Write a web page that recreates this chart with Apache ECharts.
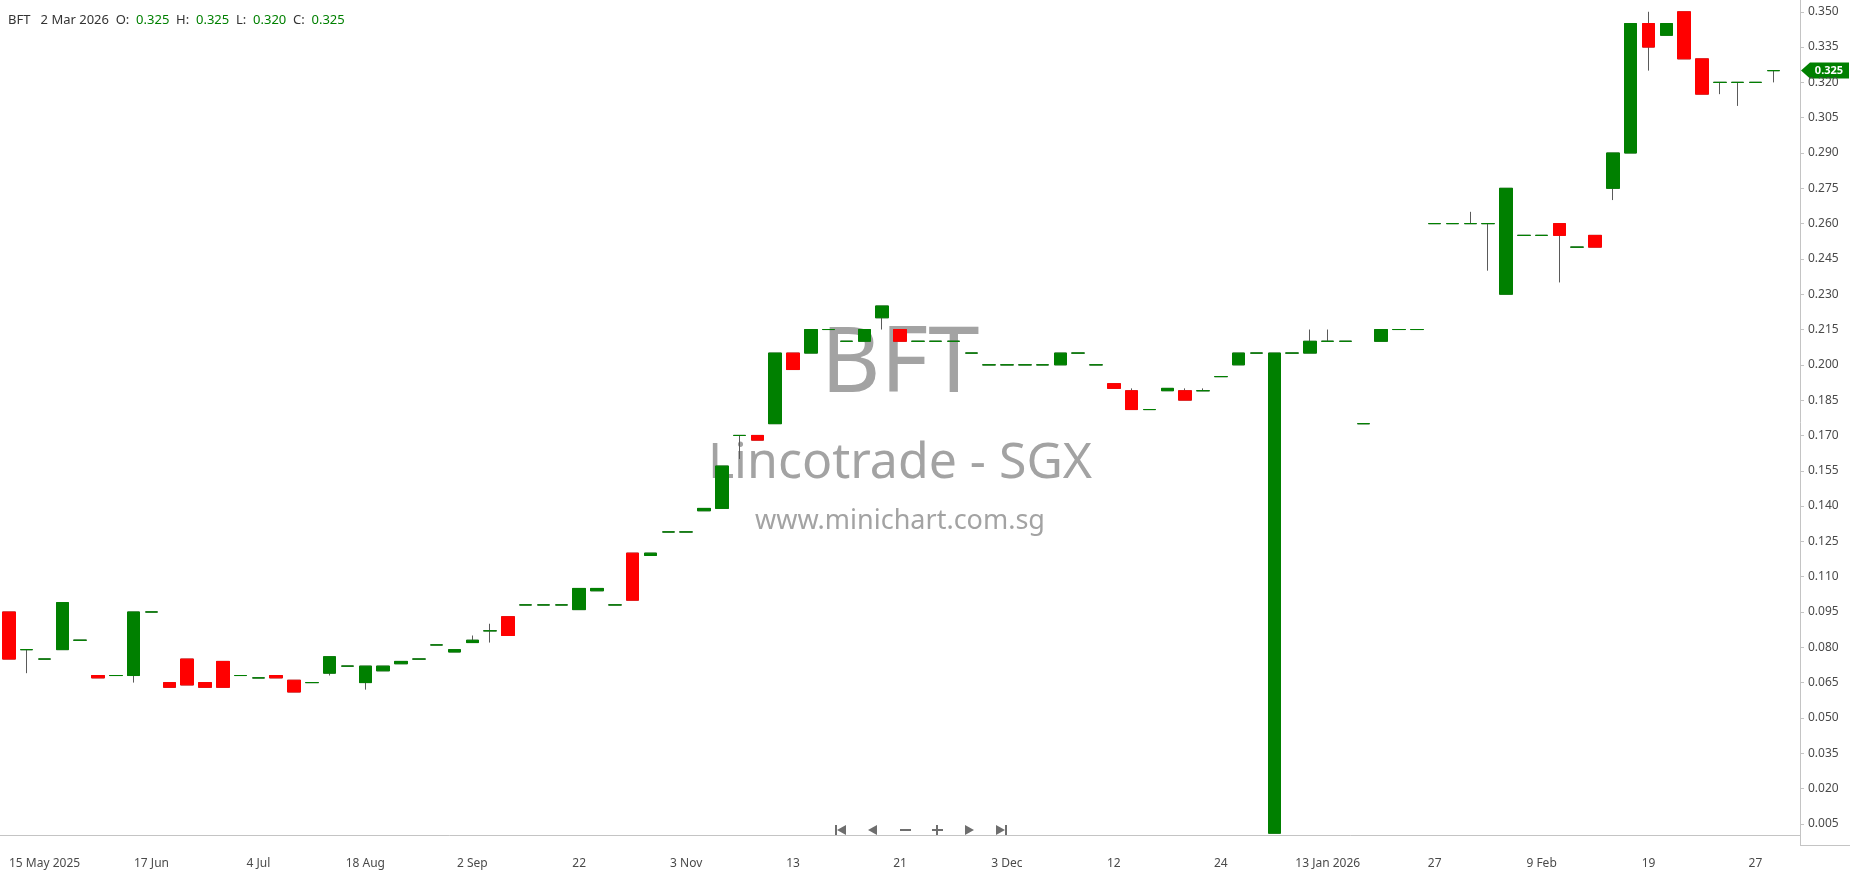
<!DOCTYPE html>
<html>
<head>
<meta charset="utf-8">
<title>BFT</title>
<script src="https://cdn.jsdelivr.net/npm/echarts@6/dist/echarts.min.js"></script>
<style>
  html, body { margin: 0; padding: 0; background: #fff; }
  #chart { width: 1850px; height: 874px; }
</style>
</head>
<body>
<div id="chart"></div>
<script>
var stockName = 'BFT';

// trading days (only days with trades are plotted)
var dates = [
  '2025-05-09', '2025-05-13', '2025-05-15', '2025-05-20', '2025-05-23', '2025-05-28', '2025-06-03', '2025-06-10', '2025-06-17', '2025-06-19',
  '2025-06-23', '2025-06-25', '2025-06-27', '2025-07-01', '2025-07-04', '2025-07-10', '2025-07-17', '2025-07-24', '2025-07-30', '2025-08-05',
  '2025-08-18', '2025-08-20', '2025-08-22', '2025-08-26', '2025-08-28', '2025-08-29', '2025-09-02', '2025-09-04', '2025-09-08', '2025-09-11',
  '2025-09-15', '2025-09-18', '2025-09-22', '2025-09-25', '2025-09-30', '2025-10-07', '2025-10-14', '2025-10-22', '2025-11-03', '2025-11-05',
  '2025-11-06', '2025-11-07', '2025-11-10', '2025-11-11', '2025-11-13', '2025-11-14', '2025-11-17', '2025-11-18', '2025-11-19', '2025-11-20',
  '2025-11-21', '2025-11-24', '2025-11-25', '2025-11-26', '2025-11-27', '2025-12-01', '2025-12-03', '2025-12-04', '2025-12-05', '2025-12-08',
  '2025-12-09', '2025-12-10', '2025-12-12', '2025-12-15', '2025-12-16', '2025-12-17', '2025-12-19', '2025-12-22', '2025-12-24', '2025-12-26',
  '2025-12-29', '2025-12-30', '2026-01-05', '2026-01-08', '2026-01-13', '2026-01-14', '2026-01-16', '2026-01-20', '2026-01-22', '2026-01-23',
  '2026-01-27', '2026-01-28', '2026-01-30', '2026-02-02', '2026-02-04', '2026-02-06', '2026-02-09', '2026-02-10', '2026-02-11', '2026-02-12',
  '2026-02-13', '2026-02-16', '2026-02-19', '2026-02-20', '2026-02-23', '2026-02-24', '2026-02-25', '2026-02-26', '2026-02-27', '2026-03-02'
];

var openP = [
  0.095, 0.079, 0.075, 0.079, 0.083, 0.068, 0.068, 0.068, 0.095, 0.065,
  0.075, 0.065, 0.074, 0.068, 0.067, 0.068, 0.066, 0.065, 0.069, 0.072,
  0.065, 0.070, 0.073, 0.075, 0.081, 0.078, 0.082, 0.087, 0.093, 0.098,
  0.098, 0.098, 0.096, 0.104, 0.098, 0.120, 0.119, 0.129, 0.129, 0.138,
  0.139, 0.170, 0.170, 0.175, 0.205, 0.205, 0.215, 0.210, 0.210, 0.220,
  0.215, 0.210, 0.210, 0.210, 0.205, 0.200, 0.200, 0.200, 0.200, 0.200,
  0.205, 0.200, 0.192, 0.189, 0.181, 0.189, 0.189, 0.189, 0.195, 0.200,
  0.205, 0.001, 0.205, 0.205, 0.210, 0.210, 0.175, 0.210, 0.215, 0.215,
  0.260, 0.260, 0.260, 0.260, 0.230, 0.255, 0.255, 0.260, 0.250, 0.255,
  0.275, 0.290, 0.345, 0.340, 0.350, 0.330, 0.320, 0.320, 0.320, 0.325
];
var highP = [
  0.095, 0.079, 0.075, 0.099, 0.083, 0.068, 0.068, 0.095, 0.095, 0.065,
  0.075, 0.065, 0.074, 0.068, 0.067, 0.068, 0.066, 0.065, 0.076, 0.072,
  0.072, 0.072, 0.074, 0.075, 0.081, 0.079, 0.085, 0.090, 0.093, 0.098,
  0.098, 0.098, 0.105, 0.105, 0.098, 0.120, 0.120, 0.129, 0.129, 0.139,
  0.157, 0.170, 0.170, 0.205, 0.205, 0.215, 0.215, 0.210, 0.215, 0.225,
  0.215, 0.210, 0.210, 0.210, 0.205, 0.200, 0.200, 0.200, 0.200, 0.205,
  0.205, 0.200, 0.192, 0.190, 0.181, 0.190, 0.190, 0.190, 0.195, 0.205,
  0.205, 0.205, 0.205, 0.215, 0.215, 0.210, 0.175, 0.215, 0.215, 0.215,
  0.260, 0.260, 0.265, 0.260, 0.275, 0.255, 0.255, 0.260, 0.250, 0.255,
  0.290, 0.345, 0.350, 0.345, 0.350, 0.330, 0.320, 0.320, 0.320, 0.325
];
var lowP = [
  0.075, 0.069, 0.075, 0.079, 0.083, 0.067, 0.068, 0.065, 0.095, 0.063,
  0.064, 0.063, 0.063, 0.068, 0.067, 0.067, 0.061, 0.065, 0.068, 0.072,
  0.062, 0.070, 0.073, 0.075, 0.081, 0.078, 0.082, 0.082, 0.085, 0.098,
  0.098, 0.098, 0.096, 0.104, 0.098, 0.100, 0.119, 0.129, 0.129, 0.138,
  0.139, 0.160, 0.168, 0.175, 0.198, 0.205, 0.215, 0.210, 0.210, 0.215,
  0.210, 0.210, 0.210, 0.210, 0.205, 0.200, 0.200, 0.200, 0.200, 0.200,
  0.205, 0.200, 0.190, 0.181, 0.181, 0.189, 0.185, 0.189, 0.195, 0.200,
  0.205, 0.001, 0.205, 0.205, 0.210, 0.210, 0.175, 0.210, 0.215, 0.215,
  0.260, 0.260, 0.260, 0.240, 0.230, 0.255, 0.255, 0.235, 0.250, 0.250,
  0.270, 0.290, 0.325, 0.340, 0.330, 0.315, 0.315, 0.310, 0.320, 0.320
];
var closeP = [
  0.075, 0.079, 0.075, 0.099, 0.083, 0.067, 0.068, 0.095, 0.095, 0.063,
  0.064, 0.063, 0.063, 0.068, 0.067, 0.067, 0.061, 0.065, 0.076, 0.072,
  0.072, 0.072, 0.074, 0.075, 0.081, 0.079, 0.083, 0.087, 0.085, 0.098,
  0.098, 0.098, 0.105, 0.105, 0.098, 0.100, 0.120, 0.129, 0.129, 0.139,
  0.157, 0.170, 0.168, 0.205, 0.198, 0.215, 0.215, 0.210, 0.215, 0.225,
  0.210, 0.210, 0.210, 0.210, 0.205, 0.200, 0.200, 0.200, 0.200, 0.205,
  0.205, 0.200, 0.190, 0.181, 0.181, 0.190, 0.185, 0.189, 0.195, 0.205,
  0.205, 0.205, 0.205, 0.210, 0.210, 0.210, 0.175, 0.215, 0.215, 0.215,
  0.260, 0.260, 0.260, 0.260, 0.275, 0.255, 0.255, 0.255, 0.250, 0.250,
  0.290, 0.345, 0.335, 0.345, 0.330, 0.315, 0.320, 0.320, 0.320, 0.325
];

// bottom axis labels, one every 6 candles starting at the 3rd
var xTickLabels = ['15 May 2025', '17 Jun', '4 Jul', '18 Aug', '2 Sep', '22', '3 Nov', '13', '21',
  '3 Dec', '12', '24', '13 Jan 2026', '27', '9 Feb', '19', '27'];
var yTickValues = [0.005, 0.020, 0.035, 0.050, 0.065, 0.080, 0.095, 0.110, 0.125, 0.140, 0.155, 0.170,
  0.185, 0.200, 0.215, 0.230, 0.245, 0.260, 0.275, 0.290, 0.305, 0.320, 0.335, 0.350];

var watermark = ['BFT', 'Lincotrade - SGX', 'www.minichart.com.sg'];

var UP = '#008000', DOWN = '#ff0000', WICK = '#5a5a5a', AXIS = '#c4c4c4', TXT = '#4a4a4a';
var FONT = '"Noto Sans", "Open Sans", sans-serif';
var MONTHS = ['Jan', 'Feb', 'Mar', 'Apr', 'May', 'Jun', 'Jul', 'Aug', 'Sep', 'Oct', 'Nov', 'Dec'];

var categories = dates.concat(['']);   // one empty slot on the right
var n = dates.length;

var wickData = [];
var bodyData = [];
for (var i = 0; i < n; i++) {
  wickData.push([openP[i], closeP[i], lowP[i], highP[i]]);
  bodyData.push([openP[i], closeP[i], Math.min(openP[i], closeP[i]), Math.max(openP[i], closeP[i])]);
}

function isTick(index) {
  return index >= 2 && (index - 2) % 6 === 0;
}

function fmtDate(s) {
  var p = s.split('-');
  return parseInt(p[2], 10) + ' ' + MONTHS[parseInt(p[1], 10) - 1] + ' ' + p[0];
}

var last = n - 1;
var header = '{n|' + stockName + '}   {n|' + fmtDate(dates[last]) + '}  {n|O:}  {g|' + openP[last].toFixed(3) +
  '}  {n|H:}  {g|' + highP[last].toFixed(3) + '}  {n|L:}  {g|' + lowP[last].toFixed(3) +
  '}  {n|C:}  {g|' + closeP[last].toFixed(3) + '}';

// navigation buttons under the chart
function navIcons(cx, cy) {
  var c = '#6e6e6e';
  var s = 32;
  var els = [];
  var x = cx;
  els.push({ type: 'rect', shape: { x: x - 6, y: cy - 5, width: 2, height: 10 }, style: { fill: c } });
  els.push({ type: 'polygon', shape: { points: [[x - 4, cy], [x + 5, cy - 5], [x + 5, cy + 5]] }, style: { fill: c } });
  x += s;
  els.push({ type: 'polygon', shape: { points: [[x - 5, cy], [x + 4, cy - 5], [x + 4, cy + 5]] }, style: { fill: c } });
  x += s;
  els.push({ type: 'rect', shape: { x: x - 5, y: cy - 1, width: 11, height: 2 }, style: { fill: c } });
  x += s;
  els.push({ type: 'rect', shape: { x: x - 5, y: cy - 1, width: 11, height: 2 }, style: { fill: c } });
  els.push({ type: 'rect', shape: { x: x - 1, y: cy - 5, width: 2, height: 11 }, style: { fill: c } });
  x += s;
  els.push({ type: 'polygon', shape: { points: [[x + 5, cy], [x - 4, cy - 5], [x - 4, cy + 5]] }, style: { fill: c } });
  x += s;
  els.push({ type: 'polygon', shape: { points: [[x + 4, cy], [x - 5, cy - 5], [x - 5, cy + 5]] }, style: { fill: c } });
  els.push({ type: 'rect', shape: { x: x + 4, y: cy - 5, width: 2, height: 10 }, style: { fill: c } });
  return els;
}

var chart = echarts.init(document.getElementById('chart'), null, { renderer: 'canvas' });

var option = {
  animation: false,
  backgroundColor: '#ffffff',
  textStyle: { fontFamily: FONT },
  title: {
    left: 3,
    top: 9,
    text: header,
    textStyle: {
      fontWeight: 'normal',
      fontSize: 13,
      rich: {
        n: { color: '#333333', fontSize: 13, fontWeight: 'normal', fontFamily: FONT },
        g: { color: UP, fontSize: 13, fontWeight: 'normal', fontFamily: FONT }
      }
    }
  },
  grid: { left: 0, right: 50, top: 0, bottom: 29 },
  xAxis: {
    type: 'category',
    data: categories,
    boundaryGap: true,
    axisLine: { lineStyle: { color: AXIS } },
    axisTick: { alignWithLabel: true, interval: isTick, length: 5, lineStyle: { color: AXIS } },
    axisLabel: {
      interval: isTick,
      color: TXT,
      fontSize: 12,
      fontFamily: FONT,
      margin: 13,
      formatter: function (v, idx) {
        var k = (idx - 2) / 6;
        return xTickLabels[k] || '';
      }
    },
    splitLine: { show: false }
  },
  yAxis: {
    type: 'value',
    position: 'right',
    min: -0.004,
    max: 0.355,
    axisLine: { show: true, lineStyle: { color: AXIS } },
    axisTick: { show: true, length: 4, customValues: yTickValues, lineStyle: { color: AXIS } },
    axisLabel: {
      customValues: yTickValues,
      color: TXT,
      fontSize: 12,
      fontFamily: FONT,
      margin: 8,
      formatter: function (v) { return v.toFixed(3); }
    },
    splitLine: { show: false }
  },
  graphic: [
    { type: 'text', z: 0, x: 900, y: 366, style: { text: watermark[0], fill: '#a3a3a3', font: '92px ' + FONT, textAlign: 'center', textVerticalAlign: 'middle' } },
    { type: 'text', z: 0, x: 900, y: 464, style: { text: watermark[1], fill: '#a3a3a3', font: '50px ' + FONT, textAlign: 'center', textVerticalAlign: 'middle' } },
    { type: 'text', z: 0, x: 900, y: 521, style: { text: watermark[2], fill: '#a3a3a3', font: '27px ' + FONT, textAlign: 'center', textVerticalAlign: 'middle' } },
    { type: 'line', z: 1, shape: { x1: 1800, y1: 845.5, x2: 1850, y2: 845.5 }, style: { stroke: AXIS, lineWidth: 1 } },
    { type: 'group', z: 5, children: navIcons(841, 830) }
  ],
  series: [
    {
      name: 'wick',
      type: 'candlestick',
      data: wickData,
      barWidth: 13,
      z: 3,
      itemStyle: {
        color: 'rgba(0,0,0,0)',
        color0: 'rgba(0,0,0,0)',
        borderColor: WICK,
        borderColor0: WICK,
        borderColorDoji: WICK,
        borderWidth: 1
      }
    },
    {
      name: 'body',
      type: 'candlestick',
      data: bodyData,
      barWidth: 13,
      z: 4,
      itemStyle: {
        color: UP,
        color0: DOWN,
        borderColor: UP,
        borderColor0: DOWN,
        borderColorDoji: UP,
        borderWidth: 1
      }
    }
  ]
};

chart.setOption(option);

// last price tag on the right axis
var py = chart.convertToPixel({ yAxisIndex: 0 }, closeP[last]);
chart.setOption({
  graphic: option.graphic.concat([
    {
      type: 'group',
      z: 20,
      children: [
        { type: 'polygon', shape: { points: [[1801, py], [1810, py - 8], [1849, py - 8], [1849, py + 8], [1810, py + 8]] }, style: { fill: UP } },
        { type: 'text', x: 1829, y: py, style: { text: closeP[last].toFixed(3), fill: '#ffffff', font: 'bold 11px ' + FONT, textAlign: 'center', textVerticalAlign: 'middle' } }
      ]
    }
  ])
});
</script>
</body>
</html>
